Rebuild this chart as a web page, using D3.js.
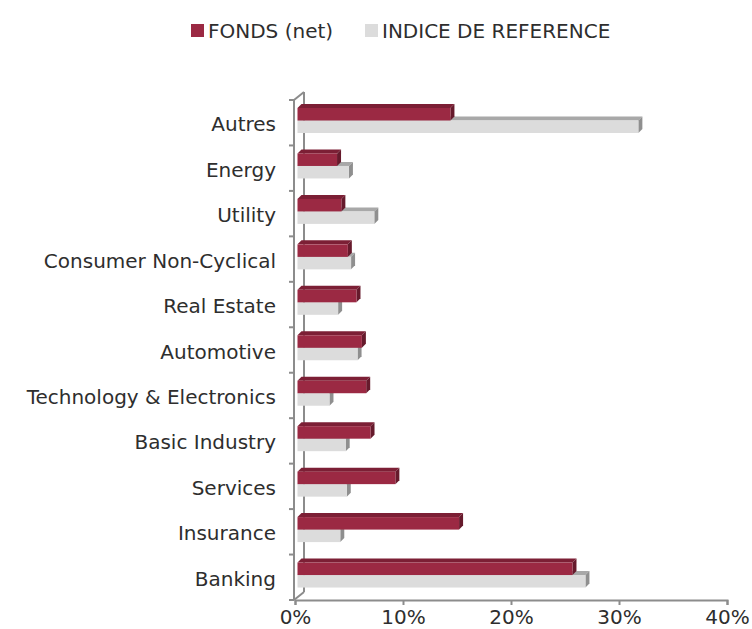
<!DOCTYPE html>
<html><head><meta charset="utf-8">
<script src="https://cdn.jsdelivr.net/npm/d3@7"></script>
<style>
html,body{margin:0;padding:0;background:#fff;}
svg{display:block;}
text{font-family:"DejaVu Sans",sans-serif;fill:#2e2e2e;}
</style></head>
<body>
<svg id="chart" width="752" height="629"></svg>
<script>
const categories = ["Autres","Energy","Utility","Consumer Non-Cyclical","Real Estate","Automotive","Technology & Electronics","Basic Industry","Services","Insurance","Banking"];
const fondsValues = [14.3, 3.8, 4.2, 4.8, 5.6, 6.1, 6.5, 6.9, 9.2, 15.1, 25.6];
const indiceValues = [31.7, 4.9, 7.25, 5.1, 3.9, 5.7, 3.1, 4.6, 4.7, 4.1, 26.8];
const seriesNames = ["FONDS (net)", "INDICE DE REFERENCE"];
const xTicks = [0, 10, 20, 30, 40];

const svg = d3.select("#chart");
const x = d3.scaleLinear().domain([0, 40]).range([295, 727]);
const y = d3.scaleBand().domain(categories).range([100, 600]);
const depth = {dx: 10, dy: -8};
const bd = 4; // bar depth
const axisColor = "#8c8c8c";
const fs = 20;

// 3D frame: back wall line, top and floor diagonals
const x0 = 294;
svg.append("line").attr("x1", x0 + depth.dx).attr("x2", x0 + depth.dx)
  .attr("y1", 100 + depth.dy).attr("y2", 600 + depth.dy)
  .attr("stroke", axisColor).attr("stroke-width", 2);
svg.append("line").attr("x1", x0).attr("y1", 100).attr("x2", x0 + depth.dx).attr("y2", 100 + depth.dy)
  .attr("stroke", axisColor).attr("stroke-width", 2);
svg.append("line").attr("x1", x0).attr("y1", 600).attr("x2", x0 + depth.dx).attr("y2", 600 + depth.dy)
  .attr("stroke", axisColor).attr("stroke-width", 2);

// front vertical axis with ticks
svg.append("line").attr("x1", x0).attr("x2", x0).attr("y1", 100).attr("y2", 600)
  .attr("stroke", axisColor).attr("stroke-width", 2);
const yTickPos = categories.map(c => y(c)).concat([600]);
svg.selectAll(".ytick").data(yTickPos).join("line")
  .attr("x1", x0 - 5).attr("x2", x0).attr("y1", d => d).attr("y2", d => d)
  .attr("stroke", axisColor).attr("stroke-width", 2);

// bottom x axis
const xAxis = svg.append("g").attr("transform", "translate(0,600)")
  .call(d3.axisBottom(x).tickValues(xTicks).tickFormat(d => d + "%").tickSize(5).tickPadding(5));
xAxis.select(".domain").attr("stroke", axisColor).attr("stroke-width", 2);
xAxis.selectAll(".tick line").attr("stroke", axisColor).attr("stroke-width", 2);
xAxis.selectAll(".tick text").attr("font-size", fs).attr("font-family", "DejaVu Sans, sans-serif").attr("fill", "#2e2e2e");

// bars
const colors = [
  {front: "#9b2943", top: "#7c1f35", side: "#661a2c"},
  {front: "#dcdcdc", top: "#a8a8a8", side: "#8f8f8f"}
];
const barH = 12.5;
function drawBar(g, v, yTop, c) {
  const xs = x(0) + 2.5, xe = x(v) + 1;
  g.append("polygon").attr("points", [[xs, yTop], [xs + bd, yTop - bd], [xe + bd, yTop - bd], [xe, yTop]].join(" "))
    .attr("fill", c.top);
  g.append("polygon").attr("points", [[xe, yTop], [xe + bd, yTop - bd], [xe + bd, yTop + barH - bd], [xe, yTop + barH]].join(" "))
    .attr("fill", c.side);
  g.append("rect").attr("x", xs).attr("y", yTop).attr("width", xe - xs).attr("height", barH).attr("fill", c.front);
}
categories.forEach((cat, i) => {
  const g = svg.append("g");
  const b = y(cat);
  drawBar(g, indiceValues[i], b + 20.5, colors[1]);
  drawBar(g, fondsValues[i], b + 8, colors[0]);
});

// category labels
svg.selectAll(".cat").data(categories).join("text")
  .attr("x", 276).attr("y", d => y(d) + y.bandwidth() / 2 + 1.5)
  .attr("text-anchor", "end").attr("dominant-baseline", "central")
  .attr("font-size", fs).text(d => d);

// legend
const legend = svg.append("g");
const legItems = [{x: 191, name: seriesNames[0], c: colors[0].front}, {x: 365, name: seriesNames[1], c: colors[1].front}];
legItems.forEach(it => {
  legend.append("rect").attr("x", it.x).attr("y", 24).attr("width", 13).attr("height", 13).attr("fill", it.c);
  legend.append("text").attr("x", it.x + 17).attr("y", 31).attr("dominant-baseline", "central")
    .attr("font-size", fs).text(it.name);
});
</script>
</body></html>
